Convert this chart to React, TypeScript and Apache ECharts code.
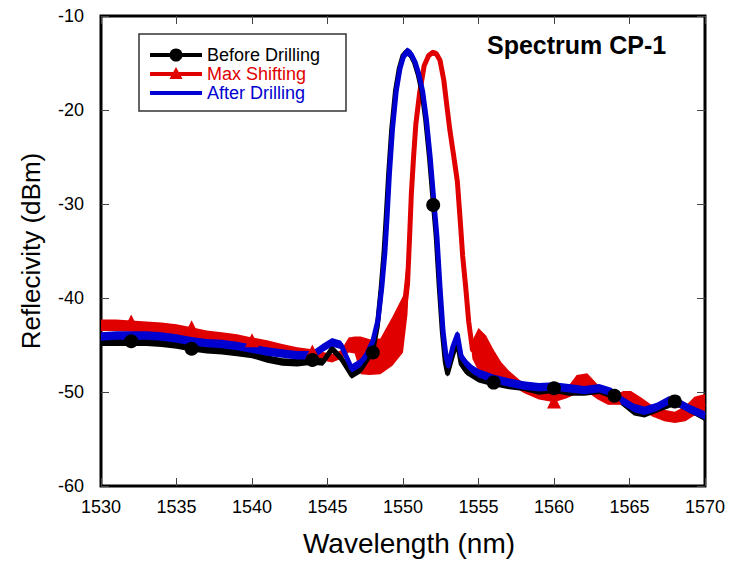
import React, { useEffect, useRef } from "react";
import * as echarts from "echarts";

// ---- Data (wavelength in nm, reflectivity in dBm) ----
const wavelengthTicks = [1530, 1535, 1540, 1545, 1550, 1555, 1560, 1565, 1570];
const reflectivityTicks = [-60, -50, -40, -30, -20, -10];

const seriesNames = ["Before Drilling", "Max Shifting", "After Drilling"];

const beforeWl = [1530, 1531, 1532, 1533, 1534, 1535, 1536, 1537, 1538, 1539, 1540, 1541, 1542, 1543, 1544,
  1544.7, 1545.3, 1545.9, 1546.6, 1547.2, 1547.6, 1548,
  1548.3, 1548.55, 1548.75, 1548.9, 1549.05, 1549.25, 1549.5, 1549.75,
  1550, 1550.25, 1550.5, 1550.75, 1551, 1551.25, 1551.5, 1551.75,
  1552, 1552.2, 1552.4, 1552.6, 1552.8, 1552.95,
  1553.3, 1553.6, 1553.85, 1554.2, 1554.6,
  1555, 1555.5, 1556,
  1557, 1558, 1559, 1560, 1561, 1562, 1563, 1564,
  1564.6, 1565.3, 1566, 1566.8, 1568, 1568.6, 1569.3, 1570];
const beforeDb = [-44.7, -44.7, -44.7, -44.7, -44.8, -45.0, -45.3, -45.5, -45.6, -45.8, -46.0, -46.5, -46.8, -46.9, -46.7,
  -46.8, -45.4, -46.4, -48.2, -47.6, -46.6, -45.6,
  -43.0, -39.0, -35.0, -31.0, -26.8, -22.1, -18.0, -15.6,
  -14.2, -13.8, -14.1, -14.9, -16.2, -18.0, -21.0, -25.0,
  -29.8, -33.5, -38.8, -43.5, -46.8, -48.0,
  -46.0, -44.6, -47.0, -47.8, -48.2,
  -48.6, -48.8, -49.0,
  -49.3, -49.5, -49.9, -49.7, -50.0, -50.0, -49.8, -50.4,
  -51.2, -52.1, -52.3, -51.8, -51.1, -51.5, -52.1, -52.7];
const beforeMarkWl = [1532, 1536, 1544, 1548, 1552, 1556, 1560, 1564, 1568];
const beforeMarkDb = [-44.6, -45.4, -46.6, -45.8, -30.1, -49.0, -49.6, -50.4, -51.0];

const maxWl = [1530, 1531, 1532, 1533, 1534, 1535, 1536, 1537, 1538, 1539, 1540, 1541, 1542, 1543, 1544,
  1544.7, 1545.3, 1545.9, 1546.4, 1546.8, 1547.2, 1547.8, 1548.5, 1549.3, 1550.0,
  1550.3, 1550.45, 1550.55, 1550.7, 1550.85, 1551.1, 1551.4, 1551.7, 1551.95,
  1552.2, 1552.45, 1552.7, 1552.9, 1553.1, 1553.35, 1553.6, 1553.8, 1553.95, 1554.15, 1554.35, 1554.6,
  1555.0, 1555.5, 1556, 1556.5, 1557, 1557.5, 1558,
  1559, 1560, 1560.8, 1561.5, 1562.2, 1562.9, 1563.5, 1564,
  1564.6, 1565.1, 1565.8, 1566.5, 1567.3, 1568, 1568.7, 1569.3, 1570];
const maxDb = [-42.9, -42.9, -43.0, -43.1, -43.2, -43.4, -43.7, -44.0, -44.2, -44.4, -44.7, -45.0, -45.4, -45.7, -45.9,
  -46.2, -46.4, -46.0, -45.0, -45.0, -46.1, -46.3, -46.2, -44.6, -42.8,
  -38.5, -33.0, -29.0, -25.0, -21.5, -18.2, -15.3, -14.2, -13.9,
  -14.0, -14.7, -16.8, -19.5, -22.1, -24.8, -27.6, -32.0, -35.5, -38.8, -42.5, -45.5,
  -45.5, -46.0, -47.0, -47.8, -48.4, -49.0, -49.6,
  -50.3, -50.6, -50.2, -49.2, -49.0, -50.0, -50.8, -50.8,
  -50.6, -50.6, -51.2, -52.0, -52.5, -52.7, -52.3, -51.5, -51.2];
// half-height of the noisy trace envelope (dB)
const maxSpread = [0.6, 0.6, 0.6, 0.6, 0.6, 0.6, 0.6, 0.55, 0.55, 0.55, 0.5, 0.5, 0.5, 0.45, 0.45,
  0.45, 0.45, 0.45, 0.8, 0.9, 2.0, 1.9, 1.9, 2.6, 3.0,
  3.2, 1.0, 0.3, 0.3, 0.3, 0.3, 0.3, 0.3, 0.3,
  0.3, 0.3, 0.3, 0.3, 0.3, 0.3, 0.3, 0.3, 0.3, 0.3, 0.5, 1.0,
  2.3, 2.0, 1.5, 1.0, 0.7, 0.6, 0.5,
  0.5, 0.5, 0.5, 1.0, 1.0, 0.8, 0.5, 0.5,
  0.7, 0.7, 0.6, 0.6, 0.6, 0.6, 0.8, 1.0, 1.0];
const maxMarkWl = [1532, 1536, 1540, 1544, 1560, 1564];
const maxMarkDb = [-42.5, -43.1, -44.5, -45.7, -51.0, -50.6];

const afterWl = [1530, 1531, 1532, 1533, 1534, 1535, 1536, 1537, 1538, 1539, 1540, 1541, 1542, 1543, 1544,
  1544.7, 1545.3, 1545.9, 1546.6, 1547.2, 1547.6, 1548,
  1548.35, 1548.6, 1548.8, 1548.95, 1549.1, 1549.3, 1549.55, 1549.8,
  1550.05, 1550.3, 1550.55, 1550.8, 1551.05, 1551.3, 1551.55, 1551.8,
  1552.05, 1552.25, 1552.45, 1552.65, 1552.85, 1553,
  1553.3, 1553.6, 1553.85, 1554.2, 1554.6,
  1555, 1555.5, 1556,
  1557, 1558, 1559, 1560, 1561, 1562, 1563,
  1563.8, 1564.5, 1565.3, 1566, 1566.8, 1567.6, 1568.3, 1569, 1570];
const afterDb = [-44.1, -44.0, -44.0, -44.0, -44.1, -44.3, -44.6, -44.8, -44.9, -45.1, -45.4, -45.7, -45.9, -46.1, -46.1,
  -45.3, -44.7, -45.0, -47.5, -46.9, -46.0, -44.6,
  -42.3, -38.8, -35.2, -31.3, -26.8, -22.1, -18.0, -15.6,
  -14.2, -13.8, -14.1, -14.9, -16.2, -18.0, -21.0, -25.0,
  -29.8, -33.5, -38.8, -43.5, -46.2, -47.2,
  -45.2, -43.9, -46.2, -47.0, -47.6,
  -48.0, -48.3, -48.6,
  -49.0, -49.3, -49.5, -49.4, -49.6, -49.8, -49.6,
  -50.0, -50.9, -51.7, -52.0, -51.6, -50.9, -51.2, -51.8, -52.5];

const beforeSpread = 0.4;
const afterSpread = 0.45;

// ---- Styles ----
const FONT = '"Liberation Sans", Arial, Helvetica, sans-serif';
const BLACK = "#000000";
const RED = "#e00000";
const BLUE = "#0000d0";

function pairs(wl: number[], db: number[]) {
  return wl.map((x, i) => [x, db[i]]);
}

function bandSeries(wl: number[], db: number[], spread: number[] | number, color: string, z: number) {
  const pts = wl.map((x, i) => {
    const s = Array.isArray(spread) ? spread[i] : spread;
    return [x, db[i] - s, db[i] + s];
  });
  return {
    type: "custom",
    z,
    silent: true,
    clip: true,
    encode: { x: 0, y: [1, 2] },
    data: pts,
    renderItem: (params: any, api: any) => {
      if (params.dataIndex !== 0) return null;
      const up = pts.map((p) => api.coord([p[0], p[2]]));
      const lo = pts.map((p) => api.coord([p[0], p[1]])).reverse();
      return {
        type: "polygon",
        shape: { points: up.concat(lo) },
        style: { fill: color },
      };
    },
  };
}

function lineSeries(wl: number[], db: number[], color: string, z: number) {
  return {
    type: "line",
    data: pairs(wl, db),
    symbol: "none",
    silent: true,
    z,
    lineStyle: { color, width: 5, join: "round" },
  };
}

function markers(wl: number[], db: number[], symbol: string, color: string, size: number, z: number) {
  return {
    type: "scatter",
    data: pairs(wl, db),
    symbol,
    symbolSize: size,
    silent: true,
    z,
    itemStyle: { color, opacity: 1 },
  };
}

export default function App() {
  const ref = useRef<HTMLDivElement>(null);

  useEffect(() => {
    if (!ref.current) return;
    const chart = echarts.init(ref.current, undefined, { renderer: "svg" });

    const tickStyle = { show: true, inside: true, length: 8, lineStyle: { color: "#444", width: 1 } };
    const xCommon = {
      type: "value",
      min: wavelengthTicks[0],
      max: wavelengthTicks[wavelengthTicks.length - 1],
      interval: wavelengthTicks[1] - wavelengthTicks[0],
      axisLine: { show: false },
      axisTick: tickStyle,
      splitLine: { show: false },
    };
    const yCommon = {
      type: "value",
      min: reflectivityTicks[0],
      max: reflectivityTicks[reflectivityTicks.length - 1],
      interval: reflectivityTicks[1] - reflectivityTicks[0],
      axisLine: { show: false },
      axisTick: tickStyle,
      splitLine: { show: false },
    };

    const legendRows = [
      { y: 55, color: BLACK, marker: "circle" },
      { y: 74, color: RED, marker: "triangle" },
      { y: 93, color: BLUE, marker: "none" },
    ];
    const legendChildren: any[] = [
      {
        type: "rect",
        shape: { x: 139, y: 34, width: 207, height: 77 },
        style: { fill: "#fff", stroke: "#333", lineWidth: 1.5 },
      },
    ];
    legendRows.forEach((r, i) => {
      legendChildren.push({
        type: "line",
        shape: { x1: 150, y1: r.y, x2: 202, y2: r.y },
        style: { stroke: r.color, lineWidth: 4 },
      });
      if (r.marker === "circle") {
        legendChildren.push({ type: "circle", shape: { cx: 176, cy: r.y, r: 6.5 }, style: { fill: r.color } });
      } else if (r.marker === "triangle") {
        legendChildren.push({
          type: "polygon",
          shape: { points: [[169.5, r.y + 5], [182.5, r.y + 5], [176, r.y - 7]] },
          style: { fill: r.color },
        });
      }
      legendChildren.push({
        type: "text",
        x: 207,
        y: r.y,
        style: {
          text: seriesNames[i],
          fill: r.color,
          font: `18px ${FONT}`,
          textAlign: "left",
          textVerticalAlign: "middle",
        },
      });
    });

    chart.setOption({
      animation: false,
      backgroundColor: "#ffffff",
      grid: { left: 101, right: 24, top: 16, bottom: 79, show: true, borderColor: "#000", borderWidth: 3, backgroundColor: "transparent" },
      xAxis: [
        {
          ...xCommon,
          position: "bottom",
          axisLabel: { fontSize: 18, color: "#000", fontFamily: FONT, margin: 12, formatter: (v: number) => String(v) },
        },
        { ...xCommon, position: "top", axisLabel: { show: false } },
      ],
      yAxis: [
        {
          ...yCommon,
          position: "left",
          axisLabel: { fontSize: 18, color: "#000", fontFamily: FONT, margin: 17, formatter: (v: number) => String(v) },
        },
        { ...yCommon, position: "right", axisLabel: { show: false } },
      ],
      series: [
        bandSeries(maxWl, maxDb, maxSpread, RED, 2),
        lineSeries(maxWl, maxDb, RED, 2),
        bandSeries(beforeWl, beforeDb, beforeSpread, BLACK, 3),
        lineSeries(beforeWl, beforeDb, BLACK, 3),
        bandSeries(afterWl, afterDb, afterSpread, BLUE, 4),
        lineSeries(afterWl, afterDb, BLUE, 4),
        markers(maxMarkWl, maxMarkDb, "triangle", RED, 14, 5),
        markers(beforeMarkWl, beforeMarkDb, "circle", BLACK, 14, 6),
      ],
      graphic: [
        ...legendChildren,
        {
          type: "text",
          x: 487,
          y: 45,
          style: {
            text: "Spectrum CP-1",
            fill: "#000",
            font: `bold 25px ${FONT}`,
            textAlign: "left",
            textVerticalAlign: "middle",
          },
        },
        {
          type: "text",
          x: 409,
          y: 543,
          style: {
            text: "Wavelength (nm)",
            fill: "#000",
            font: `28px ${FONT}`,
            textAlign: "center",
            textVerticalAlign: "middle",
          },
        },
        {
          type: "text",
          x: 31,
          y: 251,
          rotation: Math.PI / 2,
          style: {
            text: "Reflecivity (dBm)",
            fill: "#000",
            font: `26px ${FONT}`,
            textAlign: "center",
            textVerticalAlign: "middle",
          },
        },
      ],
    });

    return () => chart.dispose();
  }, []);

  return (
    <div
      ref={ref}
      style={{ position: "absolute", left: 0, top: 0, width: 729, height: 565, background: "#fff" }}
    />
  );
}
